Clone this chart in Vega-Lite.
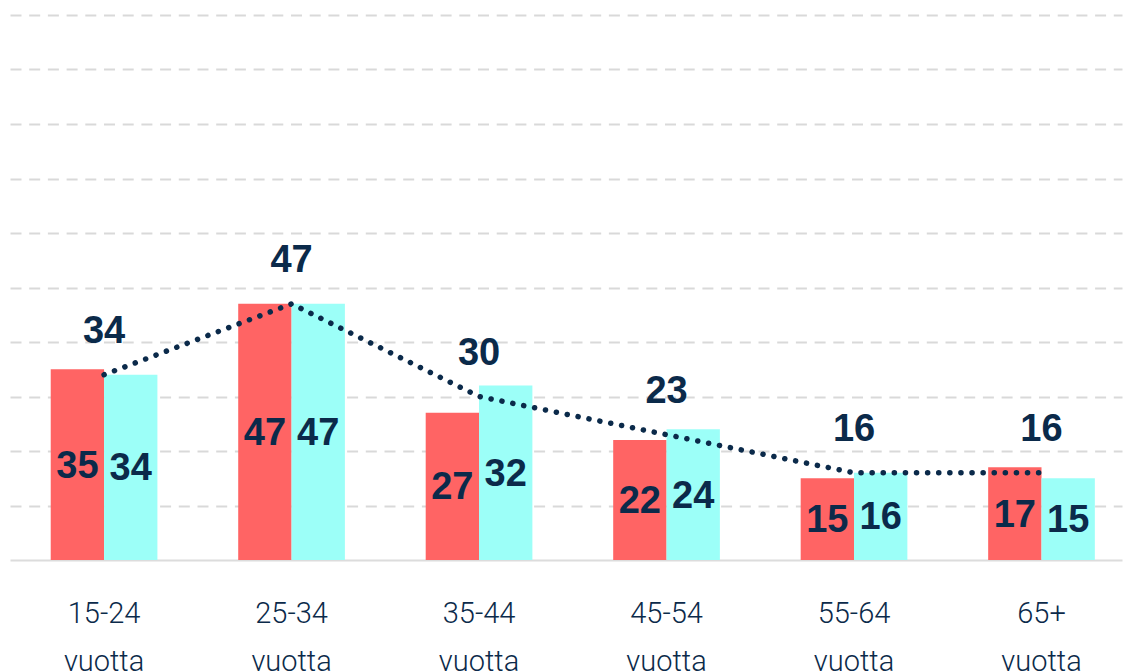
{
  "$schema": "https://vega.github.io/schema/vega-lite/v6.json",
  "width": 1112,
  "height": 545,
  "autosize": "none",
  "padding": {"left": 10, "top": 15, "right": 7, "bottom": 112},
  "config": {"view": {"stroke": null}, "font": "Liberation Sans"},
  "datasets": {
    "bars": [
      {"group": "15-24 vuotta", "series": "a", "value": 35},
      {"group": "15-24 vuotta", "series": "b", "value": 34},
      {"group": "25-34 vuotta", "series": "a", "value": 47},
      {"group": "25-34 vuotta", "series": "b", "value": 47},
      {"group": "35-44 vuotta", "series": "a", "value": 27},
      {"group": "35-44 vuotta", "series": "b", "value": 32},
      {"group": "45-54 vuotta", "series": "a", "value": 22},
      {"group": "45-54 vuotta", "series": "b", "value": 24},
      {"group": "55-64 vuotta", "series": "a", "value": 15},
      {"group": "55-64 vuotta", "series": "b", "value": 16},
      {"group": "65+ vuotta", "series": "a", "value": 17},
      {"group": "65+ vuotta", "series": "b", "value": 15}
    ],
    "avg": [
      {"group": "15-24 vuotta", "value": 34},
      {"group": "25-34 vuotta", "value": 47},
      {"group": "35-44 vuotta", "value": 30},
      {"group": "45-54 vuotta", "value": 23},
      {"group": "55-64 vuotta", "value": 16},
      {"group": "65+ vuotta", "value": 16}
    ]
  },
  "layer": [
    {
      "data": {"name": "bars"},
      "mark": {"type": "bar"},
      "encoding": {
        "x": {
          "field": "group", "type": "nominal", "sort": null,
          "scale": {"paddingInner": 0.431, "paddingOuter": 0.181, "align": 0.6},
          "axis": {
            "title": null, "ticks": false, "domainColor": "#dcdcdc", "domainWidth": 2,
            "labelAngle": 0, "labelFontSize": 29, "labelColor": "#0B2A4A",
            "labelFont": "Roboto", "labelFontWeight": 300,
            "labelExpr": "split(datum.label, ' ')", "labelLineHeight": 48,
            "labelPadding": 39
          }
        },
        "xOffset": {"field": "series", "type": "nominal", "scale": {"paddingInner": 0, "paddingOuter": 0}},
        "y": {
          "field": "value", "type": "quantitative",
          "scale": {"domain": [0, 100]},
          "axis": {
            "title": null, "labels": false, "ticks": false, "domain": false,
            "values": [10, 20, 30, 40, 50, 60, 70, 80, 90, 100],
            "grid": true, "gridColor": "#d9d9d9", "gridWidth": 2, "gridDash": [11, 7.7]
          }
        },
        "color": {
          "field": "series", "type": "nominal",
          "scale": {"domain": ["a", "b"], "range": ["#FF6464", "#9CFFF8"]},
          "legend": null
        }
      }
    },
    {
      "data": {"name": "bars"},
      "transform": [{"calculate": "datum.value / 2", "as": "mid"}],
      "mark": {"type": "text", "fontSize": 38, "fontWeight": "bold", "color": "#0B2A4A", "baseline": "middle", "dy": 2, "font": "Liberation Sans"},
      "encoding": {
        "x": {"field": "group", "type": "nominal", "sort": null},
        "xOffset": {"field": "series", "type": "nominal"},
        "y": {"field": "mid", "type": "quantitative"},
        "text": {"field": "value", "type": "quantitative"}
      }
    },
    {
      "data": {"name": "avg"},
      "mark": {"type": "line", "color": "#0B2A4A", "strokeWidth": 5.5, "strokeCap": "round", "strokeDash": [0.1, 11]},
      "encoding": {
        "x": {"field": "group", "type": "nominal", "sort": null},
        "y": {"field": "value", "type": "quantitative"}
      }
    },
    {
      "data": {"name": "avg"},
      "mark": {"type": "text", "fontSize": 38, "fontWeight": "bold", "color": "#0B2A4A", "baseline": "middle", "dy": -43, "font": "Liberation Sans"},
      "encoding": {
        "x": {"field": "group", "type": "nominal", "sort": null},
        "y": {"field": "value", "type": "quantitative"},
        "text": {"field": "value", "type": "quantitative"}
      }
    }
  ]
}
